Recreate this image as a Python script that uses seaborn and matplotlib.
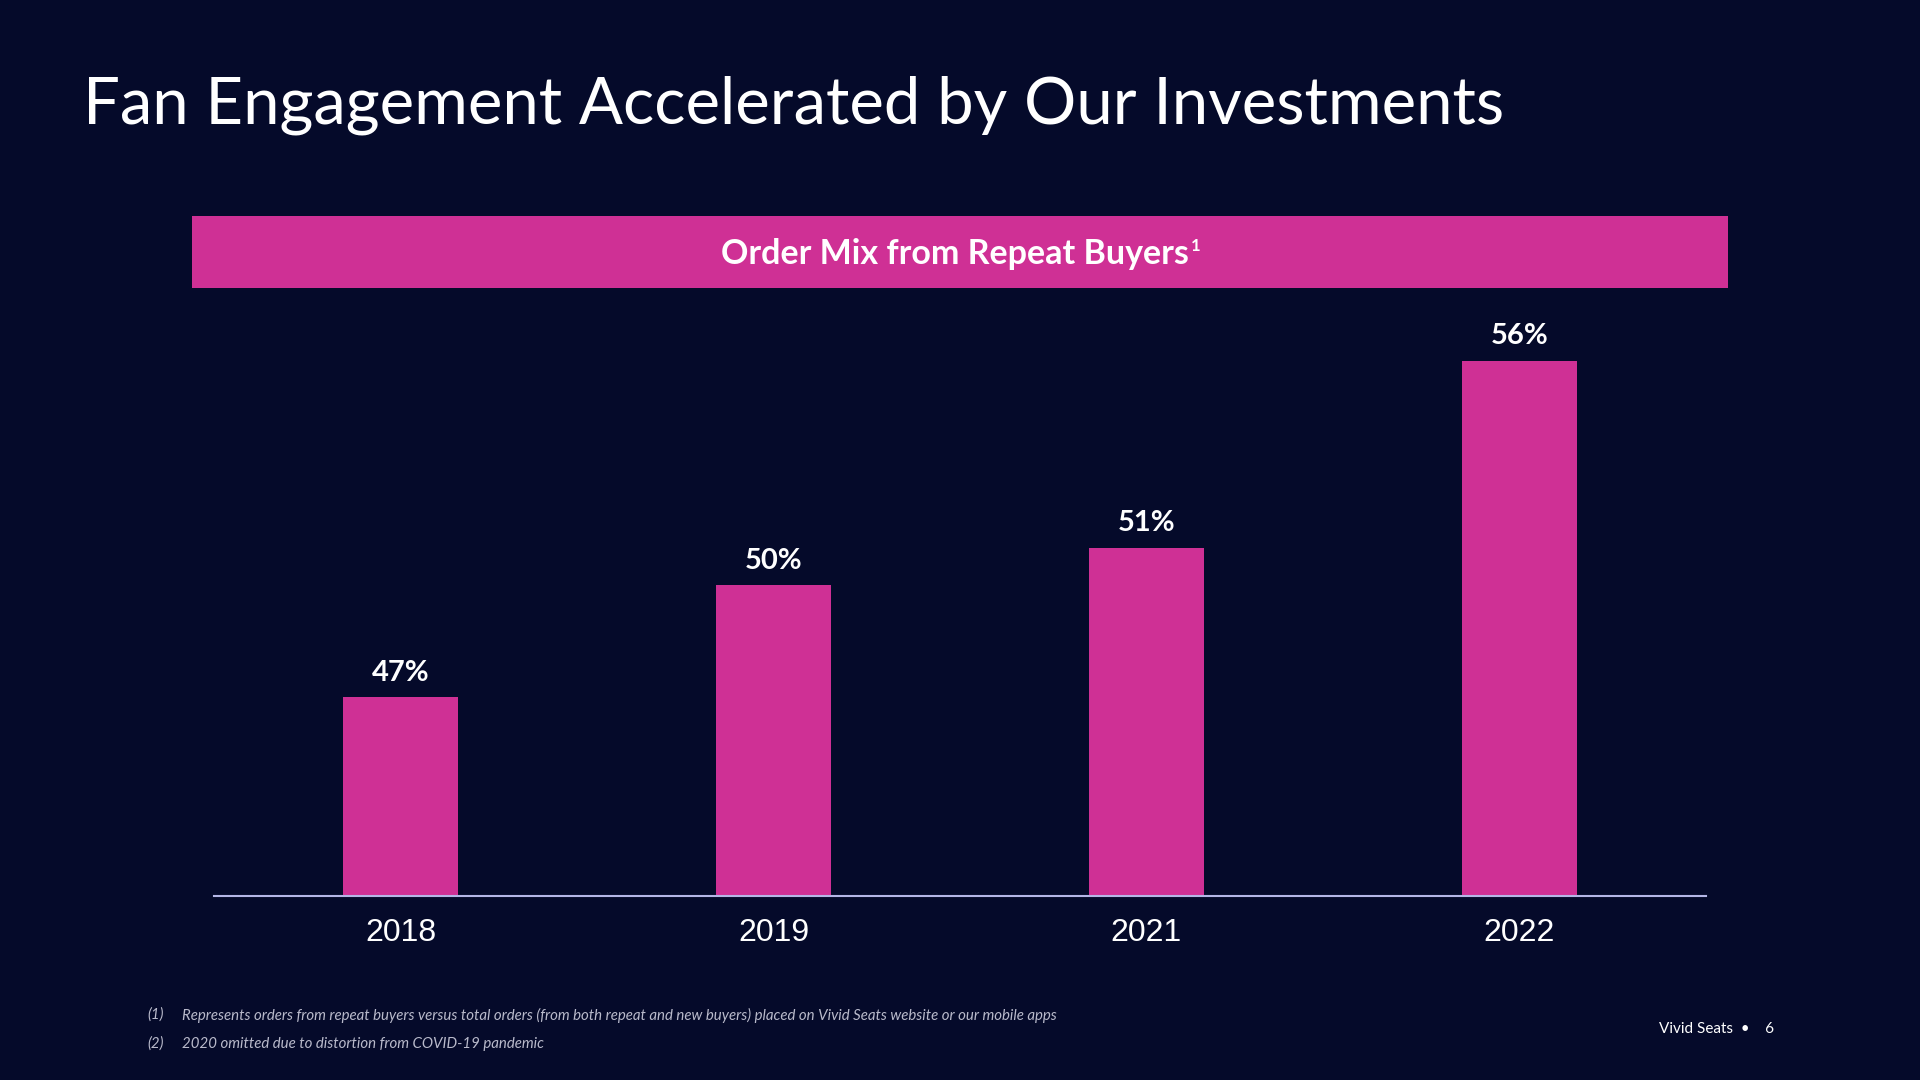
import matplotlib
matplotlib.use("Agg")
import matplotlib.pyplot as plt
import seaborn as sns
import pandas as pd

# data
years = ["2018", "2019", "2021", "2022"]
repeat_share = [47, 50, 51, 56]
labels = ["47%", "50%", "51%", "56%"]

footnotes = [
    ("(1)", "Represents orders from repeat buyers versus total orders (from both repeat and new buyers) "
            "placed on Vivid Seats website or our mobile apps"),
    ("(2)", "2020 omitted due to distortion from COVID-19 pandemic"),
]

BG = "#050a2a"
PINK = "#cf3095"
AXIS = "#b4b6e6"

sns.set_theme(style="white")
plt.rcParams["font.family"] = ["Lato", "DejaVu Sans"]

fig = plt.figure(figsize=(19.2, 10.8), dpi=100, facecolor=BG)

# title
fig.text(83 / 1920, 1 - 105 / 1080, "Fan Engagement Accelerated by Our Investments",
         color="white", fontsize=47, va="center", ha="left")

# pink banner with chart title
banner = fig.add_axes([192 / 1920, 1 - 288 / 1080, 1536 / 1920, 72 / 1080])
banner.set_facecolor(PINK)
banner.set_xticks([])
banner.set_yticks([])
for s in banner.spines.values():
    s.set_visible(False)
head = banner.text(0.497, 0.47, "Order Mix from Repeat Buyers", color="white",
                   fontsize=24.5, fontweight="bold", ha="center", va="center",
                   transform=banner.transAxes)
# superscript footnote marker, placed just right of the heading
banner.annotate("1", xy=(1, 1), xycoords=head, xytext=(1, 0),
                textcoords="offset points", color="white", fontsize=12,
                fontweight="bold", ha="left", va="top")

# bar chart
ax = fig.add_axes([214 / 1920, 184 / 1080, 1492 / 1920, 596 / 1080])
ax.set_facecolor(BG)
df = pd.DataFrame({"year": years, "share": repeat_share})
sns.barplot(data=df, x="year", y="share", color=PINK, saturation=1, width=0.31,
            edgecolor=PINK, linewidth=0, ax=ax)
ax.set_ylim(41.68, 57.62)
ax.set_xlim(-0.5, 3.5)
ax.bar_label(ax.containers[0], labels=labels, padding=8, color="white",
             fontsize=21, fontweight="bold")
ax.set_xlabel("")
ax.set_ylabel("")
ax.set_yticks([])
ax.tick_params(axis="x", length=0, pad=16, labelsize=23, labelcolor="white")
for lab in ax.get_xticklabels():
    lab.set_family(["Liberation Sans", "DejaVu Sans"])
for side in ["top", "right", "left"]:
    ax.spines[side].set_visible(False)
ax.spines["bottom"].set_color(AXIS)
ax.spines["bottom"].set_linewidth(1.5)

# footnotes
for i, (num, txt) in enumerate(footnotes):
    y = 1 - (1015 + i * 29) / 1080
    fig.text(147 / 1920, y, num, color="#b9bacb", fontsize=10.8, style="italic", va="center")
    fig.text(182 / 1920, y, txt, color="#b9bacb", fontsize=10.8, style="italic", va="center")

fig.text(1659 / 1920, 1 - 1029 / 1080, "Vivid Seats  \u2022    6", color="white",
         fontsize=11, va="center", ha="left")

fig.savefig("out.png", dpi=100, facecolor=BG)
